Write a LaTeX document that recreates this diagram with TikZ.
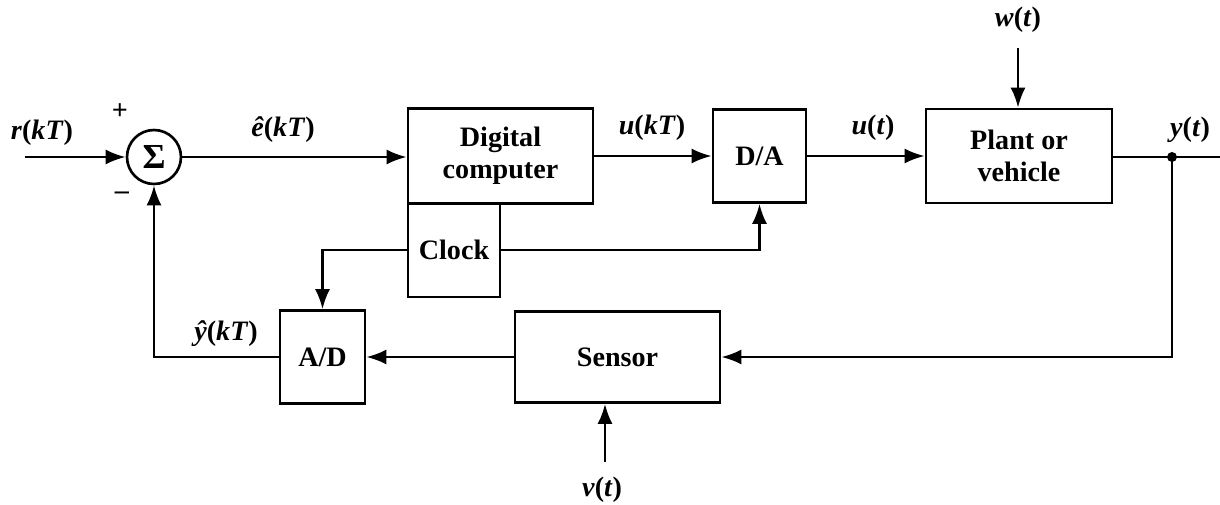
\documentclass[tikz,border=0pt]{standalone}
\usepackage{fontspec}
\setmainfont{Liberation Serif}
\usetikzlibrary{arrows.meta}
\tikzset{
  blk/.style={draw, line width=1.5pt, inner sep=0pt, align=center},
  sig/.style={line width=1.5pt, -{Latex[length=4mm,width=3mm]}},
  wire/.style={line width=1.5pt},
  lbl/.style={inner sep=0pt}
}
\begin{document}
\begin{tikzpicture}[x=0.02cm,y=-0.02cm,font=\fontsize{16}{18}\selectfont\bfseries]
\useasboundingbox (0,0) rectangle (1220,504);
% blocks
\node[blk, circle, minimum size=1.08cm, font=\fontsize{20}{20}\selectfont\bfseries] (sum) at (154,157){Σ};
\node[blk, minimum width=3.7cm, minimum height=1.9cm] (dc) at (500.5,156){Digital\\computer};
\node[blk, minimum width=1.84cm, minimum height=1.88cm] (clk) at (454,250){Clock};
\node[blk, minimum width=1.86cm, minimum height=1.86cm] (da) at (759.5,156){D/A};
\node[blk, minimum width=3.72cm, minimum height=1.88cm] (plant) at (1019,156){Plant or\\vehicle};
\node[blk, minimum width=1.7cm, minimum height=1.86cm] (ad) at (322.5,357){A/D};
\node[blk, minimum width=4.1cm, minimum height=1.82cm] (sen) at (617.5,357){Sensor};
% free ends
\coordinate (rin) at (25,157);
\coordinate (yout) at (1220,157);
\coordinate (yt) at (1172,157);
\coordinate (win) at (1018,48);
\coordinate (vin) at (605,462);
% labels
\node[lbl] (rl) at (42,133){\textit{r}(\textit{kT})};
\node[lbl] (pl) at (120,112){+};
\node[lbl] (ml) at (122,196){--};
\node[lbl] (el) at (283,130){\textit{ê}(\textit{kT})};
\node[lbl] (ukl) at (652,128){\textit{u}(\textit{kT})};
\node[lbl] (utl) at (873,128){\textit{u}(\textit{t})};
\node[lbl] (wl) at (1018,20){\textit{w}(\textit{t})};
\node[lbl] (yl) at (1190,130){\textit{y}(\textit{t})};
\node[lbl] (yhl) at (226,334){\textit{ŷ}(\textit{kT})};
\node[lbl] (vl) at (602,490){\textit{v}(\textit{t})};
% connectors
\draw[sig] (rin) -- (sum);
\draw[sig] (sum) -- (dc.west |- sum);
\draw[sig] (dc.east |- da) -- (da);
\draw[sig] (da) -- (plant.west |- da);
\draw[wire] (plant.east |- yout) -- (yout);
\draw[sig] (win) -- (plant.north -| win);
\draw[sig] (clk.east) -| (da.south);
\draw[sig] (clk.west) -| (ad.north);
\draw[sig] (yt) |- (sen.east);
\draw[sig] (sen) -- (ad);
\draw[sig] (ad.west) -| (sum.south);
\draw[sig] (vin) -- (sen.south -| vin);
\fill (yt) circle (5);
\end{tikzpicture}
\end{document}
